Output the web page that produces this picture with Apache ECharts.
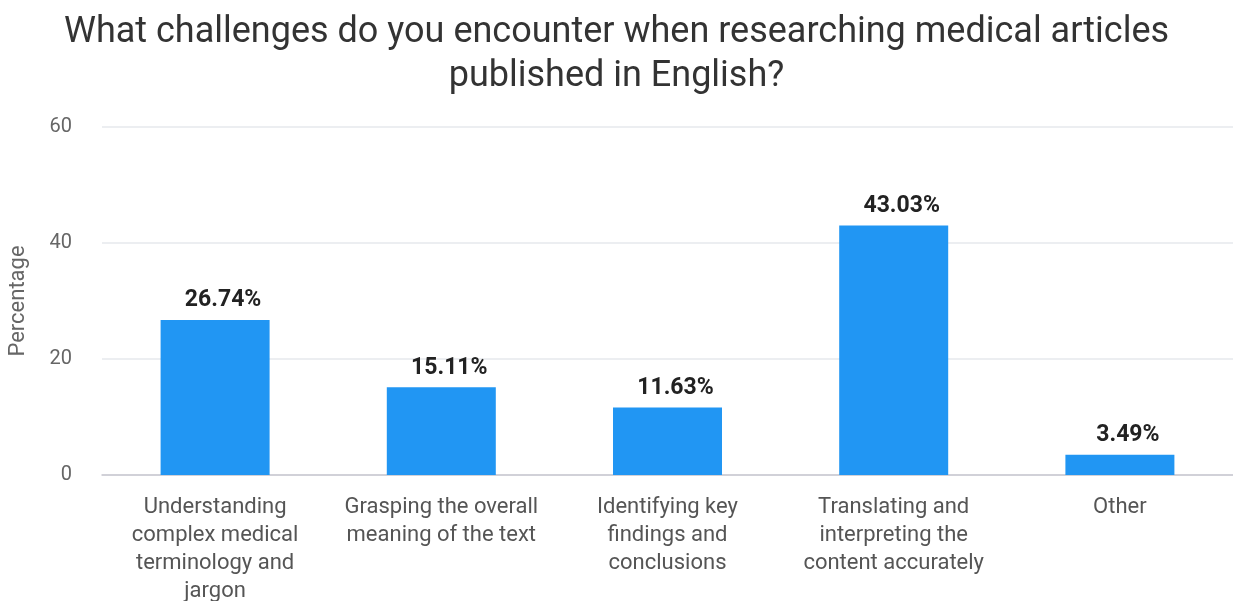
<!DOCTYPE html>
<html>
<head>
<meta charset="utf-8">
<script src="https://cdn.jsdelivr.net/npm/echarts@6/dist/echarts.min.js"></script>
<style>
  html, body { margin: 0; padding: 0; background: #fff; }
  #chart { width: 1233px; height: 601px; }
</style>
</head>
<body>
<div id="chart"></div>
<script>
const categories = [
  'Understanding\ncomplex medical\nterminology and\njargon',
  'Grasping the overall\nmeaning of the text',
  'Identifying key\nfindings and\nconclusions',
  'Translating and\ninterpreting the\ncontent accurately',
  'Other'
];
const percentages = [26.74, 15.11, 11.63, 43.03, 3.49];
const yTicks = [0, 20, 40, 60];

const chart = echarts.init(document.getElementById('chart'));

const option = {
  textStyle: { fontFamily: 'Roboto' },
  title: {
    text: 'What challenges do you encounter when researching medical articles\npublished in English?',
    left: 'center',
    top: 6,
    textStyle: {
      fontSize: 36,
      fontWeight: 'normal',
      color: '#333',
      lineHeight: 44,
      fontFamily: 'Roboto'
    }
  },
  grid: {
    left: 102,
    right: 0,
    top: 127,
    bottom: 126,
    containLabel: false,
    outerBoundsMode: 'none'
  },
  xAxis: {
    type: 'category',
    data: categories,
    axisTick: { show: false },
    axisLine: { lineStyle: { color: '#c8c8d0', width: 1.5 } },
    axisLabel: {
      interval: 0,
      color: '#555',
      fontSize: 22,
      lineHeight: 28,
      margin: 18
    }
  },
  yAxis: {
    type: 'value',
    min: yTicks[0],
    max: yTicks[yTicks.length - 1],
    interval: 20,
    name: 'Percentage',
    nameLocation: 'middle',
    nameGap: 73,
    nameTextStyle: { color: '#666', fontSize: 22 },
    axisLine: { show: false },
    axisTick: { show: false },
    axisLabel: { color: '#666', fontSize: 20, margin: 30 },
    splitLine: { lineStyle: { color: '#e6e8ec', width: 1.5 } }
  },
  series: [{
    type: 'bar',
    data: percentages,
    barWidth: 109,
    itemStyle: { color: '#2196f3' },
    label: {
      show: true,
      position: 'top',
      distance: 8,
      offset: [8, 0],
      formatter: p => p.value.toFixed(2) + '%',
      color: '#222',
      fontSize: 23,
      fontWeight: 'bold'
    }
  }]
};

chart.setOption(option);
</script>
</body>
</html>
